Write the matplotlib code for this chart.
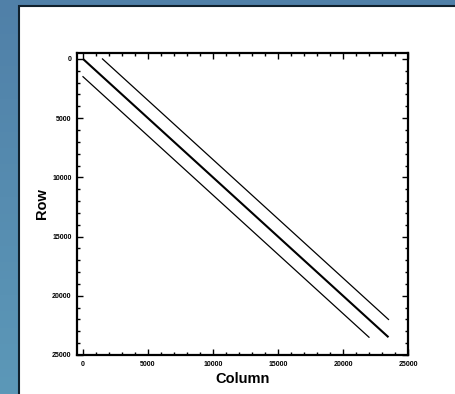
import matplotlib
matplotlib.use("Agg")
import matplotlib.pyplot as plt
import matplotlib.patches as mpatches
import numpy as np

W, H = 456, 394

# diagonal band: centre line and the two offset edges (column, row)
centre_col = [0, 23500]
centre_row = [0, 23500]
upper_col = [1500, 23500]
upper_row = [0, 22000]
lower_col = [0, 22000]
lower_row = [1500, 23500]

x_ticks = [0, 5000, 10000, 15000, 20000, 25000]
y_ticks = [0, 5000, 10000, 15000, 20000, 25000]

fig = plt.figure(figsize=(W / 100, H / 100), dpi=100)

# blue slide background with a soft vertical gradient
bg = fig.add_axes([0, 0, 1, 1])
grad = np.linspace(0, 1, 256).reshape(-1, 1)
top = np.array([0x50, 0x80, 0xa8]) / 255
bot = np.array([0x5c, 0x98, 0xb8]) / 255
img = top + (bot - top) * grad[..., None]
bg.imshow(img, aspect="auto", extent=[0, W, H, 0])
bg.set_xlim(0, W)
bg.set_ylim(H, 0)
bg.axis("off")
bg.add_patch(mpatches.Rectangle((19, 6), W, H, facecolor="white", edgecolor="#10202c", linewidth=1.5))

ax = fig.add_axes([77 / W, 1 - 355 / H, (408 - 77) / W, (355 - 53) / H])
ax.plot(centre_col, centre_row, color="black", lw=1.5, solid_capstyle="butt")
ax.plot(upper_col, upper_row, color="black", lw=0.9)
ax.plot(lower_col, lower_row, color="black", lw=0.9)

ax.set_xlim(-460, 25000)
ax.set_ylim(25000, -500)
ax.set_xticks(x_ticks)
ax.set_yticks(y_ticks)
ax.set_xticks(np.arange(0, 25001, 1000), minor=True)
ax.set_yticks(np.arange(0, 25001, 1000), minor=True)
ax.tick_params(which="both", direction="in", top=True, right=True, width=1.0)
ax.tick_params(which="major", length=4, labelsize=5, pad=4)
ax.tick_params(which="minor", length=2)
for lab in ax.get_xticklabels() + ax.get_yticklabels():
    lab.set_family(["Liberation Sans Narrow", "Liberation Sans"])
    lab.set_fontweight("bold")
for s in ax.spines.values():
    s.set_linewidth(1.6)

ax.set_xlabel("Column", fontsize=10.5, fontweight="bold", family="Liberation Sans", labelpad=3)
ax.set_ylabel("Row", fontsize=10.5, fontweight="bold", family="Liberation Sans", labelpad=2)

fig.savefig("out.png", dpi=100)
